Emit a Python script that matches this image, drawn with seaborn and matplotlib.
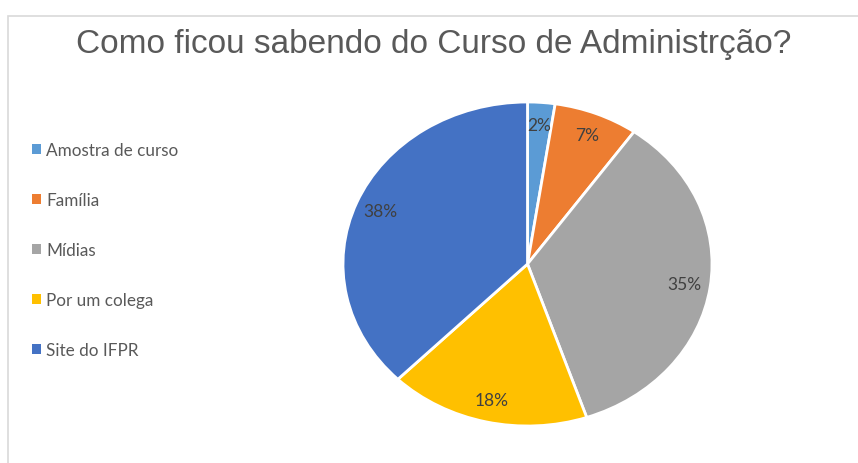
import matplotlib.pyplot as plt
import seaborn as sns
from matplotlib.patches import Rectangle

# data (shares in %)
categories = ["Amostra de curso", "Família", "Mídias", "Por um colega", "Site do IFPR"]
shares = [2.4, 7.4, 35.0, 17.6, 37.6]
colors = ["#5B9BD5", "#ED7D31", "#A5A5A5", "#FFC000", "#4472C4"]
title = "Como ficou sabendo do Curso de Administrção?"

sns.set_theme(style="white")
plt.rcParams["font.family"] = ["Liberation Sans", "DejaVu Sans"]

fig = plt.figure(figsize=(8.58, 4.64), dpi=100)
W, H = 858, 464

# light grey chart frame (cut by the screenshot on right / bottom)
fig.patches.append(Rectangle((8 / W, -0.05), 1.0, 1 - 17 / H + 0.05, transform=fig.transFigure,
                             facecolor="none", edgecolor="#D9D9D9", linewidth=1.2, zorder=-1))

fig.text(434 / W, 1 - 44 / H, title, ha="center", va="center", fontsize=24, color="#595959")

# pie axes, slightly stretched horizontally like the source screenshot
ax = fig.add_axes([343 / W, 37 / H, 369 / W, 324 / H])
wedges, _, autotexts = ax.pie(
    shares,
    colors=colors,
    startangle=90,
    counterclock=False,
    autopct=lambda p: f"{int(p + 0.5)}%",
    pctdistance=0.86,
    wedgeprops=dict(edgecolor="white", linewidth=2),
    textprops=dict(color="#404040", fontsize=12.5, family=["Lato", "DejaVu Sans"]),
)
ax.set_aspect("auto")
ax.set_xlim(-1, 1)
ax.set_ylim(-1, 1)
ax.axis("off")

leg = fig.legend(
    wedges,
    categories,
    loc="upper left",
    bbox_to_anchor=(17 / W, 1 - 128 / H),
    frameon=False,
    handlelength=0.5,
    handleheight=0.5,
    handletextpad=0.3,
    labelspacing=1.99,
    prop=dict(family=["Lato", "DejaVu Sans"], size=12.3),
)
for t in leg.get_texts():
    t.set_color("#595959")
for h in leg.legend_handles:
    h.set_edgecolor("none")

fig.savefig("out.png", dpi=100)
